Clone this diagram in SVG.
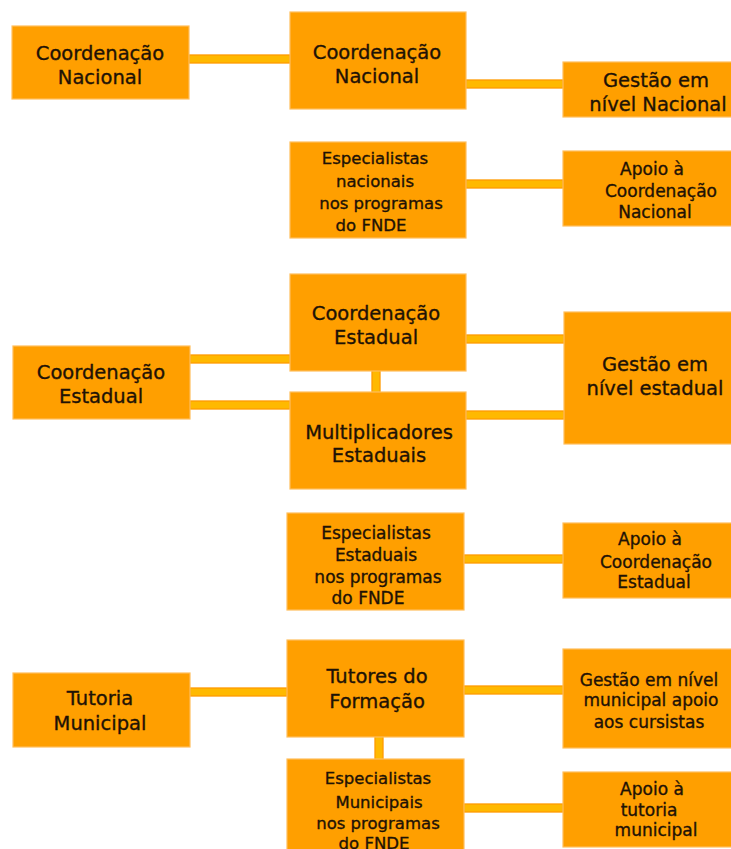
<svg xmlns="http://www.w3.org/2000/svg" width="731" height="849" viewBox="0 0 731 849">
<style>
.box{fill:#FF9F00;stroke:#FFBE5C;stroke-width:1.2}
.bar{fill:#FFB900;stroke:#FF9A00;stroke-width:1.3}
text{font-family:"DejaVu Sans","Liberation Sans",sans-serif;fill:#1E1206;stroke:#1E1206;stroke-width:0.35;text-anchor:middle}
.L{font-size:19.5px}
.S{font-size:17px}
.T{font-size:16.5px}
</style>
<rect width="731" height="849" fill="#FFFFFF"/>
<g id="connectors">
<rect class="bar" x="189" y="55" width="101" height="8"/>
<rect class="bar" x="466" y="80" width="97" height="8"/>
<rect class="bar" x="466" y="180" width="97" height="8"/>
<rect class="bar" x="190" y="355" width="100" height="8"/>
<rect class="bar" x="190" y="401" width="100" height="8"/>
<rect class="bar" x="466" y="335" width="98" height="8"/>
<rect class="bar" x="466" y="411" width="98" height="8"/>
<rect class="bar" x="372" y="370" width="8" height="23"/>
<rect class="bar" x="464" y="555" width="99" height="8"/>
<rect class="bar" x="190" y="688" width="97" height="8"/>
<rect class="bar" x="464" y="686" width="99" height="8"/>
<rect class="bar" x="375" y="736" width="8" height="24"/>
<rect class="bar" x="464" y="804" width="99" height="8"/>
</g>
<g id="n1"><rect class="box" x="12" y="26" width="177" height="73"/>
<text class="L" x="100" y="60">Coordenação</text><text class="L" x="100" y="84">Nacional</text></g>
<g id="n2"><rect class="box" x="290" y="12" width="176" height="97"/>
<text class="L" x="377" y="59">Coordenação</text><text class="L" x="377" y="83">Nacional</text></g>
<g id="n3"><rect class="box" x="563" y="62" width="170" height="55"/>
<text class="L" x="656" y="87">Gestão em</text><text class="L" x="658" y="111">nível Nacional</text></g>
<g id="n4"><rect class="box" x="290" y="142" width="176" height="96"/>
<text class="T" x="375" y="164">Especialistas</text><text class="T" x="375" y="187">nacionais</text><text class="T" x="381" y="209">nos programas</text><text class="T" x="371" y="231">do FNDE</text></g>
<g id="n5"><rect class="box" x="563" y="151" width="170" height="75"/>
<text class="S" x="652" y="175">Apoio à</text><text class="S" x="661" y="197">Coordenação</text><text class="S" x="655" y="218">Nacional</text></g>
<g id="n6"><rect class="box" x="13" y="346" width="177" height="73"/>
<text class="L" x="101" y="379">Coordenação</text><text class="L" x="101" y="403">Estadual</text></g>
<g id="n7"><rect class="box" x="290" y="274" width="176" height="97"/>
<text class="L" x="376" y="320">Coordenação</text><text class="L" x="376" y="344">Estadual</text></g>
<g id="n8"><rect class="box" x="290" y="392" width="176" height="97"/>
<text class="L" x="379" y="439">Multiplicadores</text><text class="L" x="379" y="462">Estaduais</text></g>
<g id="n9"><rect class="box" x="564" y="312" width="169" height="132"/>
<text class="L" x="655" y="371">Gestão em</text><text class="L" x="655" y="395">nível estadual</text></g>
<g id="n10"><rect class="box" x="287" y="513" width="177" height="97"/>
<text class="S" x="376" y="539">Especialistas</text><text class="S" x="376" y="561">Estaduais</text><text class="S" x="378" y="583">nos programas</text><text class="S" x="368" y="604">do FNDE</text></g>
<g id="n11"><rect class="box" x="563" y="523" width="170" height="75"/>
<text class="S" x="650" y="545">Apoio à</text><text class="S" x="656" y="568">Coordenação</text><text class="S" x="654" y="588">Estadual</text></g>
<g id="n12"><rect class="box" x="13" y="673" width="177" height="74"/>
<text class="L" x="100" y="705">Tutoria</text><text class="L" x="100" y="730">Municipal</text></g>
<g id="n13"><rect class="box" x="287" y="640" width="177" height="97"/>
<text class="L" x="377" y="683">Tutores do</text><text class="L" x="377" y="708">Formação</text></g>
<g id="n14"><rect class="box" x="563" y="649" width="170" height="99"/>
<text class="S" x="649" y="686">Gestão em nível</text><text class="S" x="651" y="706">municipal apoio</text><text class="S" x="649" y="728">aos cursistas</text></g>
<g id="n15"><rect class="box" x="287" y="759" width="177" height="95"/>
<text class="T" x="378" y="784">Especialistas</text><text class="T" x="379" y="808">Municipais</text><text class="T" x="378" y="829">nos programas</text><text class="T" x="374" y="849">do FNDE</text></g>
<g id="n16"><rect class="box" x="563" y="772" width="170" height="75"/>
<text class="S" x="652" y="795">Apoio à</text><text class="S" x="649" y="816">tutoria</text><text class="S" x="656" y="836">municipal</text></g>
</svg>
